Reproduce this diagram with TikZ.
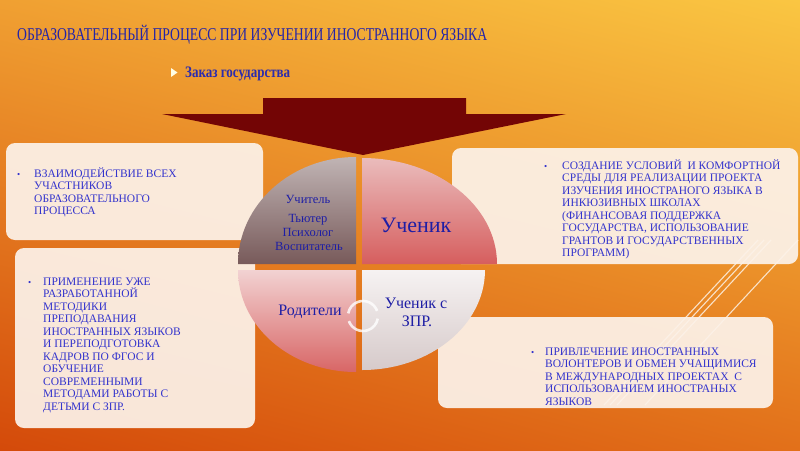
\documentclass[tikz,border=0pt]{standalone}
\usepackage{fontspec}
\setmainfont{Liberation Serif}
\usepackage{graphicx}
\usetikzlibrary{shadings}
\definecolor{bgUL}{RGB}{240,160,50}
\definecolor{bgUR}{RGB}{250,198,66}
\definecolor{bgLL}{RGB}{212,74,10}
\definecolor{bgLR}{RGB}{226,112,26}
\definecolor{titleblue}{RGB}{36,36,168}
\definecolor{txtblue}{RGB}{52,52,205}
\definecolor{qblue}{RGB}{30,30,165}
\definecolor{arrowred}{RGB}{115,5,5}
\definecolor{boxfill}{RGB}{252,242,233}
\definecolor{tlTop}{RGB}{192,180,180}
\definecolor{tlBot}{RGB}{120,90,90}
\definecolor{trTop}{RGB}{234,188,188}
\definecolor{trBot}{RGB}{214,94,94}
\definecolor{blTop}{RGB}{242,210,210}
\definecolor{blBot}{RGB}{216,102,102}
\definecolor{brTop}{RGB}{246,242,242}
\definecolor{brBot}{RGB}{214,202,202}
\tikzset{
  boxbg/.style={fill=boxfill, fill opacity=0.93, rounded corners=9pt},
  boxtxt/.style={text=txtblue, inner sep=0pt, anchor=base west, font=\fontsize{11.5}{12.5}\selectfont},
  bul/.style={text=txtblue, inner sep=0pt, anchor=base west, font=\fontsize{9}{10}\selectfont},
  qtxt/.style={text=qblue, inner sep=0pt, anchor=base},
  deco/.style={white, opacity=0.75, line width=1.1pt},
}
\begin{document}
\begin{tikzpicture}[x=1pt,y=-1pt]
\useasboundingbox (0,0) rectangle (800,450);
% background
\shade[upper left=bgUL, upper right=bgUR, lower left=bgLL, lower right=bgLR] (0,0) rectangle (800,450);
% decorative lines
\draw[deco] (604,405) -- (758,240);
\draw[deco] (610,405) -- (764,240);
\draw[deco] (617,405) -- (771,240);
\draw[deco] (645,405) -- (798,240);
% boxes
\fill[boxbg] (6,143) rectangle (263,240);
\fill[boxbg] (15,248) rectangle (255,428);
\fill[boxbg] (452,148) rectangle (798,264);
\fill[boxbg] (438,317) rectangle (773,408);
% title
\node[inner sep=0pt, anchor=base west, text=titleblue, font=\fontsize{18}{20}\selectfont] (title) at (17,40)
  {\resizebox{470pt}{\height}{ОБРАЗОВАТЕЛЬНЫЙ ПРОЦЕСС ПРИ ИЗУЧЕНИИ ИНОСТРАННОГО ЯЗЫКА}};
\fill[white!90!yellow] (171,68) -- (171,77) -- (177.5,72.5) -- cycle;
\node[inner sep=0pt, anchor=base west, text=txtblue!85!black, font=\fontsize{16}{18}\selectfont\bfseries] (order) at (185,77)
  {\resizebox{105pt}{\height}{Заказ государства}};
% arrow
\fill[arrowred] (263,98) -- (466,98) -- (466,114) -- (566,114) -- (363,155) -- (162,114) -- (263,114) -- cycle;
% quadrants
\shade[top color=tlTop, bottom color=tlBot] (356,264) -- (238,264) arc[start angle=180, end angle=270, x radius=118, y radius=107] -- cycle;
\shade[top color=trTop, bottom color=trBot] (362,264) -- (362,158) arc[start angle=270, end angle=360, x radius=135, y radius=106] -- cycle;
\shade[top color=blTop, bottom color=blBot] (356,270) -- (238,270) arc[start angle=180, end angle=90, x radius=118, y radius=102] -- cycle;
\shade[top color=brTop, bottom color=brBot] (362,270) -- (485,270) arc[start angle=0, end angle=90, x radius=123, y radius=100] -- cycle;
% cycle arrows
\coordinate (cyc) at (363,316);
\draw[white, opacity=0.8, line width=2.6pt] (cyc) ++(-20:15) arc[start angle=-20, end angle=-170, radius=15];
\draw[white, opacity=0.8, line width=2.6pt] (cyc) ++(160:15) arc[start angle=160, end angle=10, radius=15];
% quadrant texts
\node[qtxt, font=\fontsize{12.5}{14}\selectfont] (q1a) at (308,203) {Учитель};
\node[qtxt, font=\fontsize{12.5}{14}\selectfont] (q1b) at (308,222) {Тьютер};
\node[qtxt, font=\fontsize{12.5}{14}\selectfont] (q1c) at (308,236) {Психолог};
\node[qtxt, font=\fontsize{12.5}{14}\selectfont] (q1d) at (309,250) {Воспитатель};
\node[qtxt, font=\fontsize{22}{24}\selectfont] (q2) at (416,232) {Ученик};
\node[qtxt, font=\fontsize{16}{18}\selectfont] (q3) at (310,315) {Родители};
\node[qtxt, font=\fontsize{16}{18}\selectfont] (q4a) at (416,308) {Ученик с};
\node[qtxt, font=\fontsize{16}{18}\selectfont] (q4b) at (417,326) {ЗПР.};
% box texts
\node[bul] (d1) at (17,177) {•};
\node[boxtxt] (t1) at (34,177) {\parbox[t]{220pt}{\raggedright ВЗАИМОДЕЙСТВИЕ ВСЕХ\\УЧАСТНИКОВ\\ОБРАЗОВАТЕЛЬНОГО\\ПРОЦЕССА}};
\node[bul] (d2) at (28,285) {•};
\node[boxtxt] (t2) at (43,285) {\parbox[t]{200pt}{\raggedright ПРИМЕНЕНИЕ УЖЕ\\РАЗРАБОТАННОЙ\\МЕТОДИКИ\\ПРЕПОДАВАНИЯ\\ИНОСТРАННЫХ ЯЗЫКОВ\\И ПЕРЕПОДГОТОВКА\\КАДРОВ ПО ФГОС И\\ОБУЧЕНИЕ\\СОВРЕМЕННЫМИ\\МЕТОДАМИ РАБОТЫ С\\ДЕТЬМИ С ЗПР.}};
\node[bul] (d3) at (544,169) {•};
\node[boxtxt] (t3) at (562,169) {\parbox[t]{235pt}{\raggedright СОЗДАНИЕ УСЛОВИЙ~ И КОМФОРТНОЙ\\СРЕДЫ ДЛЯ РЕАЛИЗАЦИИ ПРОЕКТА\\ИЗУЧЕНИЯ ИНОСТРАНОГО ЯЗЫКА В\\ИНКЮЗИВНЫХ ШКОЛАХ\\(ФИНАНСОВАЯ ПОДДЕРЖКА\\ГОСУДАРСТВА, ИСПОЛЬЗОВАНИЕ\\ГРАНТОВ И ГОСУДАРСТВЕННЫХ\\ПРОГРАММ)}};
\node[bul] (d4) at (531,355) {•};
\node[boxtxt] (t4) at (545,355) {\parbox[t]{225pt}{\raggedright ПРИВЛЕЧЕНИЕ ИНОСТРАННЫХ\\ВОЛОНТЕРОВ И ОБМЕН УЧАЩИМИСЯ\\В МЕЖДУНАРОДНЫХ ПРОЕКТАХ~ С\\ИСПОЛЬЗОВАНИЕМ ИНОСТРАНЫХ\\ЯЗЫКОВ}};
\end{tikzpicture}
\end{document}
